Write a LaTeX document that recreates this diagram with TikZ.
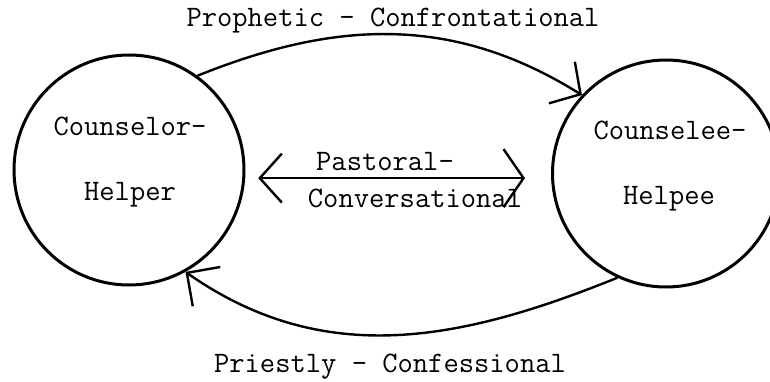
\documentclass[tikz,border=0pt]{standalone}
\usetikzlibrary{arrows.meta}

\begin{document}
\begin{tikzpicture}[
  x=1pt, y=1pt,
  font=\ttfamily\fontsize{29.7}{34}\selectfont,
  party/.style={draw, circle, line width=3pt, inner sep=0pt},
  word/.style={inner sep=0pt, text height=20pt, text depth=6pt},
  arr/.style={line width=2.4pt}
]
  \clip (0,0) rectangle (770,381);
  \fill[white] (0,0) rectangle (770,381);

  \node[party, minimum size=230pt] (helper) at (129,211) {};
  \node[party, minimum size=227pt] (helpee) at (666,207.5) {};

  \node[word] (counselor) at (130,253) {Counselor-};
  \node[word] (helperlbl) at (130,188) {Helper};
  \node[word] (counselee) at (670,249) {Counselee-};
  \node[word] (helpeelbl) at (669,184) {Helpee};

  \draw[arr, -{Straight Barb[length=22pt, width=49pt]}]
    (helper.54) to[out=22, in=148] (helpee.137);
  \draw[arr, -{Straight Barb[length=24pt, width=48pt]}]
    (helpee.245) to[out=202, in=-35] (helper.-61);
  \draw[arr, {Straight Barb[length=22pt, width=49pt]}-{Straight Barb[length=20pt, width=58pt]},
        shorten <=13pt, shorten >=26pt]
    (helper.-4) -- (helper.-4 -| helpee.west);

  \node[word] (prophetic) at (393,361) {Prophetic - Confrontational};
  \node[word] (pastoral) at (385,218) {Pastoral-};
  \node[word] (conversational) at (415,181) {Conversational};
  \node[word] (priestly) at (390,16) {Priestly - Confessional};
\end{tikzpicture}
\end{document}
